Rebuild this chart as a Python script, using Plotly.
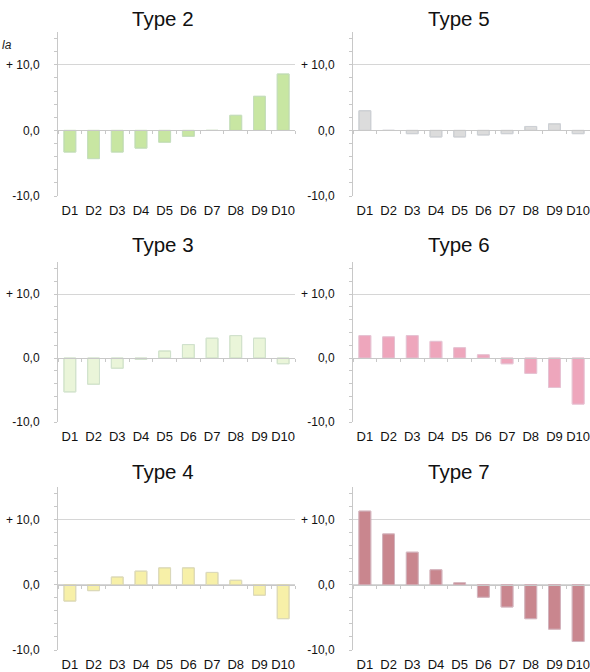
import plotly.graph_objects as go

categories = ["D1", "D2", "D3", "D4", "D5", "D6", "D7", "D8", "D9", "D10"]

titles = ["Type 2", "Type 5", "Type 3", "Type 6", "Type 4", "Type 7"]

type2 = [-3.3, -4.3, -3.3, -2.7, -1.8, -0.9, 0.0, 2.3, 5.2, 8.6]
type5 = [3.0, 0.0, -0.5, -1.0, -1.0, -0.7, -0.5, 0.6, 1.0, -0.5]
type3 = [-5.3, -4.1, -1.6, -0.2, 1.1, 2.1, 3.1, 3.5, 3.1, -0.9]
type6 = [3.5, 3.3, 3.5, 2.6, 1.6, 0.5, -0.9, -2.4, -4.6, -7.2]
type4 = [-2.5, -0.9, 1.2, 2.1, 2.6, 2.6, 1.9, 0.7, -1.6, -5.2]
type7 = [11.3, 7.8, 5.0, 2.3, 0.3, -1.9, -3.4, -5.2, -6.8, -8.7]

series = [type2, type5, type3, type6, type4, type7]

fills = ["#c8e6a2", "#dcdcdc", "#eaf5d9", "#eea6bc", "#f7f0a8", "#c9868e"]
borders = ["#a6cf86", "#b4b4b4", "#bcd6a4", "#e59ab1", "#cfc482", "#c07c85"]

tick_vals = [-10, 0, 10]
tick_text = ["-10,0", "0,0", "+ 10,0"]
minor_vals = list(range(-10, 16, 2))
y_range = [-10, 15]

W, H = 590, 672
# plot areas in pixels (left, right, top, bottom)
cols_px = [(58, 295), (353, 590)]
rows_px = [(32, 196), (262, 422), (487, 650)]
title_y_px = [18, 245, 472]
title_x_px = [163, 459]

fig = go.Figure()
layout = {}
grid = "#d6d6d6"
font = "Liberation Sans, Arial, sans-serif"

for i, (vals, title) in enumerate(zip(series, titles)):
    r, c = divmod(i, 2)
    n = i + 1
    xa = "x" if n == 1 else f"x{n}"
    ya = "y" if n == 1 else f"y{n}"
    ov = f"x{n + 6}"
    x0, x1 = cols_px[c]
    t, b = rows_px[r]
    xdom = [x0 / W, x1 / W]
    ydom = [1 - b / H, 1 - t / H]
    zero_pos = ydom[0] + (0 - y_range[0]) / (y_range[1] - y_range[0]) * (ydom[1] - ydom[0])

    fig.add_trace(go.Bar(
        x=categories, y=vals, xaxis=xa, yaxis=ya,
        marker=dict(color=fills[i], line=dict(color=borders[i], width=1)),
        width=0.5, showlegend=False, hoverinfo="x+y",
    ))
    # invisible copy to carry the zero-line category axis
    fig.add_trace(go.Bar(
        x=categories, y=vals, xaxis=ov, yaxis=ya,
        marker=dict(color="rgba(0,0,0,0)"), width=0.5,
        showlegend=False, hoverinfo="skip",
    ))

    layout[f"xaxis{'' if n == 1 else n}"] = dict(
        domain=xdom, anchor=ya, type="category",
        categoryorder="array", categoryarray=categories,
        range=[-0.5, 9.5], showline=False, showgrid=False, zeroline=False,
        ticks="outside", ticklen=2, tickcolor="rgba(0,0,0,0)", tickangle=0,
        tickfont=dict(family=font, size=13, color="#111111"),
        automargin=False, fixedrange=True,
    )
    layout[f"xaxis{n + 6}"] = dict(
        overlaying=xa, anchor="free", position=zero_pos, type="category",
        categoryorder="array", categoryarray=categories,
        range=[-0.5, 9.5], showline=True, linecolor="#c8c8c8", linewidth=1,
        ticks="outside", tickson="boundaries", ticklen=3, tickcolor="#c8c8c8",
        showticklabels=False, showgrid=False, zeroline=False,
        automargin=False,
    )
    layout[f"yaxis{'' if n == 1 else n}"] = dict(
        domain=ydom, anchor=xa, range=y_range,
        tickmode="array", tickvals=tick_vals, ticktext=tick_text,
        showgrid=True, gridcolor=grid, gridwidth=1,
        zeroline=False, showline=True, linecolor="#c8c8c8", linewidth=1,
        ticks="outside", ticklen=3, tickcolor="#c8c8c8",
        minor=dict(tickmode="array", tickvals=minor_vals, ticks="outside",
                   ticklen=3, tickcolor="#c8c8c8", showgrid=False),
        tickfont=dict(family=font, size=12, color="#111111"),
        ticklabelstandoff=12, automargin=False, fixedrange=True,
    )

annotations = []
for i, title in enumerate(titles):
    r, c = divmod(i, 2)
    annotations.append(dict(
        text=title, x=title_x_px[c] / W, y=1 - title_y_px[r] / H,
        xref="paper", yref="paper", xanchor="center", yanchor="middle",
        showarrow=False, font=dict(family=font, size=20.5, color="#111111"),
    ))
annotations.append(dict(
    text="<i>la</i>", x=0, y=1 - 45 / H, xref="paper", yref="paper",
    xanchor="left", yanchor="middle", showarrow=False,
    font=dict(family=font, size=12, color="#222222"),
))

fig.update_layout(
    width=W, height=H, margin=dict(l=0, r=0, t=0, b=0, autoexpand=False),
    paper_bgcolor="white", plot_bgcolor="white",
    bargap=0.5, annotations=annotations, **layout,
)

fig.write_html(
    "out.html",
    config={"displayModeBar": False},
    post_script="document.body.style.margin='0';document.body.style.overflow='hidden';",
)
